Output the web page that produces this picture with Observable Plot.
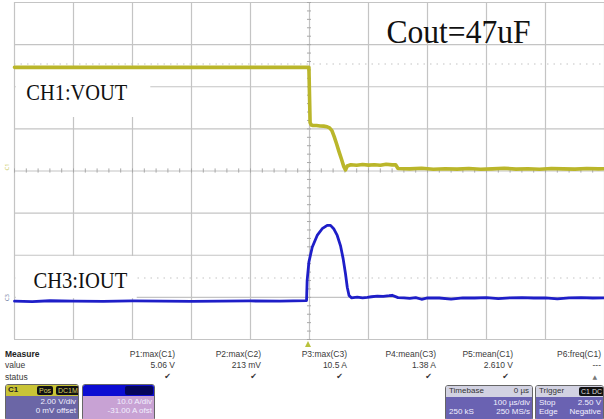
<!DOCTYPE html>
<html><head><meta charset="utf-8">
<script src="https://cdn.jsdelivr.net/npm/d3@7"></script>
<script src="https://cdn.jsdelivr.net/npm/@observablehq/plot@0.6"></script>
<style>
html,body{margin:0;padding:0;background:#fff;overflow:hidden}
#wrap{position:relative;width:604px;height:419px;overflow:hidden}
#chart svg{display:block}
#panel{position:absolute;left:0;top:341px;width:604px;height:78px;font-family:"Liberation Sans",Arial,sans-serif;font-size:8.5px;color:#3a3a3a;overflow:hidden}
.cell{position:absolute;width:90px;text-align:right;line-height:10px;white-space:nowrap}
.lab{position:absolute;left:5px;line-height:10px}
.box{position:absolute;border:1px solid #666;border-radius:3px;overflow:hidden;box-sizing:border-box;line-height:8.5px;font-size:8px}
.hdr{height:11px;position:relative;white-space:nowrap}
.bd{position:absolute;left:0;right:0;top:11px;bottom:0;color:#f2f0ff}
.row{position:absolute;left:3px;right:2px;display:flex;justify-content:space-between;white-space:nowrap}
.pill{position:absolute;top:1px;height:9px;background:#111;border-radius:2px;font-size:7px;line-height:9px;padding:0 2px}
#trig{position:absolute;left:305px;top:0;width:0;height:0;border-left:3px solid transparent;border-right:3px solid transparent;border-bottom:6px solid #b9c23c}
</style>
</head><body>
<div id="wrap"><div id="chart"></div><div id="panel"></div></div>
<script>
// ---- data (time in µs, trigger at 0; 100 µs/div) ----
const ch1Time = [-500,-400,-300,-200,-100,-1,1,3,6,12,18,24,30,34,38,42,46,50,54,58,61,64,70,80,90,100,110,120,130,140,146,150,170,190,210,230,250,270,290,310,330,350,370,390,410,430,450,470,490,500];
const ch1Volt = [4.92,4.92,4.92,4.92,4.92,4.92,2.3,2.18,2.16,2.16,2.14,2.13,2.10,2.05,1.92,1.62,1.28,0.92,0.58,0.22,0.05,0.24,0.30,0.27,0.31,0.28,0.30,0.27,0.32,0.29,0.30,0.12,0.10,0.13,0.08,0.11,0.09,0.12,0.08,0.10,0.13,0.09,0.11,0.08,0.12,0.10,0.09,0.12,0.10,0.11];
const ch3Time = [-500,-470,-440,-400,-350,-300,-250,-200,-150,-100,-50,-5,-4,-1,4.6,13,21.5,30,35.6,41,47,52.5,57,61,64,67,71,81,90,98,105,115,125,135,140,150,160,170,180,190,200,220,240,260,280,300,320,340,360,380,400,420,440,460,480,500];
const ch3Amp = [0.1,0.0,0.2,0.1,0.05,0.15,0.1,0.05,0.1,0.15,0.1,0.25,5.0,9.4,12.9,15.7,17.3,18.1,18.1,17.3,15.7,13.3,10.2,6.6,3.4,1.45,0.9,1.05,0.9,1.0,1.15,1.3,1.25,1.4,1.5,0.95,0.9,0.75,0.95,0.55,0.9,0.85,0.6,0.9,0.85,0.95,0.7,0.9,0.95,0.85,0.9,0.65,0.9,0.95,0.85,0.9];
const ch1VoltsPerDiv = 2, ch1Offset = 0;
const ch3AmpsPerDiv = 10, ch3Offset = -31;
const timeTicks = d3.range(-500, 501, 100);
const divTicks = d3.range(-4, 5, 1);
const cursorDivs = [2.54, -2.54];

const measureNames = ["P1:max(C1)","P2:max(C2)","P3:max(C3)","P4:mean(C3)","P5:mean(C1)","P6:freq(C1)"];
const measureValues = ["5.06 V","213 mV","10.5 A","1.38 A","2.610 V","---"];
const measureStatus = ["\u2714","\u2714","\u2714","\u2714","\u2714","\u25B2"];

const ch1 = ch1Time.map((t,i)=>({t, div:(ch1Volt[i]+ch1Offset)/ch1VoltsPerDiv}));
const ch3 = ch3Time.map((t,i)=>({t, div:(ch3Amp[i]+ch3Offset)/ch3AmpsPerDiv}));
const minorT = d3.range(-500, 501, 20);
const minorDiv = d3.range(-40, 41, 2).map(d=>d/10);

const grid = "#c4c4c4";
const chart = Plot.plot({
  width: 604, height: 341,
  marginLeft: 14, marginRight: 0, marginTop: 2, marginBottom: 2,
  style: {background: "white", overflow: "visible"},
  x: {domain: [-500, 500], axis: null},
  y: {domain: [-4, 4], axis: null},
  marks: [
    Plot.ruleX(timeTicks, {stroke: grid, strokeWidth: 1.2}),
    Plot.ruleY(divTicks, {stroke: grid, strokeWidth: 1.2}),
    Plot.ruleY(cursorDivs, {stroke: "#c4c4c4", strokeWidth: 1.2, strokeDasharray: "1.5,5"}),
    Plot.ruleX(minorT, {y1: -0.05, y2: 0.05, stroke: "#a8a8a8"}),
    Plot.ruleY(minorDiv, {x1: -3.4, x2: 3.4, stroke: "#a8a8a8"}),
    Plot.rect([0], {x1: -497, x2: -269, y1: 1.27, y2: 2.41, fill: "white"}),
    Plot.rect([0], {x1: -497, x2: -292, y1: -3.03, y2: -2.03, fill: "white"}),
    Plot.line(ch3, {x: "t", y: "div", stroke: "#1e1ec8", strokeWidth: 2.8, strokeLinejoin: "round"}),
    Plot.line(ch1, {x: "t", y: "div", stroke: "#bab62a", strokeWidth: 3.6, strokeLinejoin: "round"}),
    Plot.text(["CH1:VOUT"], {x: -480, y: 1.697, text: d=>d, textAnchor: "start", lineAnchor: "bottom", fontSize: 24, fontFamily: "Liberation Serif", fill: "#111"}),
    Plot.text(["CH3:IOUT"], {x: -468, y: -2.789, text: d=>d, textAnchor: "start", lineAnchor: "bottom", fontSize: 24, fontFamily: "Liberation Serif", fill: "#111"}),
    Plot.text(["Cout=47uF"], {x: 130.5, y: 3.027, text: d=>d, textAnchor: "start", lineAnchor: "bottom", fontSize: 33, fontFamily: "Liberation Serif", fill: "#111"}),
    Plot.text(["C1"], {x: -500, y: 0, dx: -7, dy: -4, text: d=>d, rotate: -90, fontSize: 6, fill: "#c8c860"}),
    Plot.text(["C3"], {x: -500, y: -3.1, dx: -7, dy: -4, text: d=>d, rotate: -90, fontSize: 6, fill: "#6a78a0"})
  ]
});
document.getElementById("chart").appendChild(chart);
const widths = {"CH1:VOUT": 101, "CH3:IOUT": 94, "Cout=47uF": 144};
chart.querySelectorAll("text").forEach(el => {
  const w = widths[el.textContent];
  if (w) { el.setAttribute("textLength", w); el.setAttribute("lengthAdjust", "spacingAndGlyphs"); }
});

// ---- measurement / status panel ----
const panel = document.getElementById("panel");
let html = '<div id="trig"></div>';
html += '<div class="lab" style="top:8px;font-weight:bold;color:#222">Measure</div>';
html += '<div class="lab" style="top:19px">value</div>';
html += '<div class="lab" style="top:31px">status</div>';
const colRight = [175, 261, 347, 436, 513, 601];
measureNames.forEach((n,i)=>{
  const l = colRight[i]-90;
  html += `<div class="cell" style="left:${l}px;top:8px">${n}</div>`;
  html += `<div class="cell" style="left:${l}px;top:19px">${measureValues[i]}</div>`;
  html += `<div class="cell" style="left:${l-4}px;top:31px;font-family:'DejaVu Sans';font-size:${i==5?6:8}px;color:${i==5?'#777':'#333'}">${measureStatus[i]}</div>`;
});
function box(left, top, width, hdrBg, hdrHtml, bodyBg, rows){
  let s = `<div class="box" style="left:${left}px;top:${top}px;width:${width}px;height:${80-top}px">`;
  s += `<div class="hdr" style="background:${hdrBg}">${hdrHtml}</div>`;
  s += `<div class="bd" style="background:${bodyBg}">`;
  rows.forEach((r,i)=>{ s += `<div class="row" style="top:${2+i*8.5}px"><span>${r[0]}</span><span>${r[1]}</span></div>`; });
  s += '</div></div>';
  return s;
}
html += box(5, 43, 74, "#c9c436",
  '<span style="position:absolute;left:2px;top:1px;color:#222;font-weight:bold">C1</span><span class="pill" style="left:31px;color:#d8d060">Pos</span><span class="pill" style="left:50px;color:#d8d060">DC1M</span>',
  "#6b66a6", [["", "2.00 V/div"], ["", "0 mV offset"]]);
html += box(82, 43, 73, "#0c0cd2",
  '<span class="pill" style="left:42px;width:24px;background:#05055a"></span>',
  "#c8a2d4", [["", "10.0 A/div"], ["", "-31.00 A ofst"]]);
html += box(445, 44, 88, "#d2d2e2",
  '<span style="position:absolute;left:3px;top:1px;color:#333">Timebase</span><span style="position:absolute;right:3px;top:1px;color:#333">0 µs</span>',
  "#6a62b2", [["", "100 µs/div"], ["250 kS", "250 MS/s"]]);
html += box(535, 44, 69, "#d2d2e2",
  '<span style="position:absolute;left:3px;top:1px;color:#333">Trigger</span><span class="pill" style="left:43px;color:#ddd">C1 DC</span>',
  "#6a62b2", [["Stop", "2.50 V"], ["Edge", "Negative"]]);
panel.innerHTML = html;
</script>
</body></html>
